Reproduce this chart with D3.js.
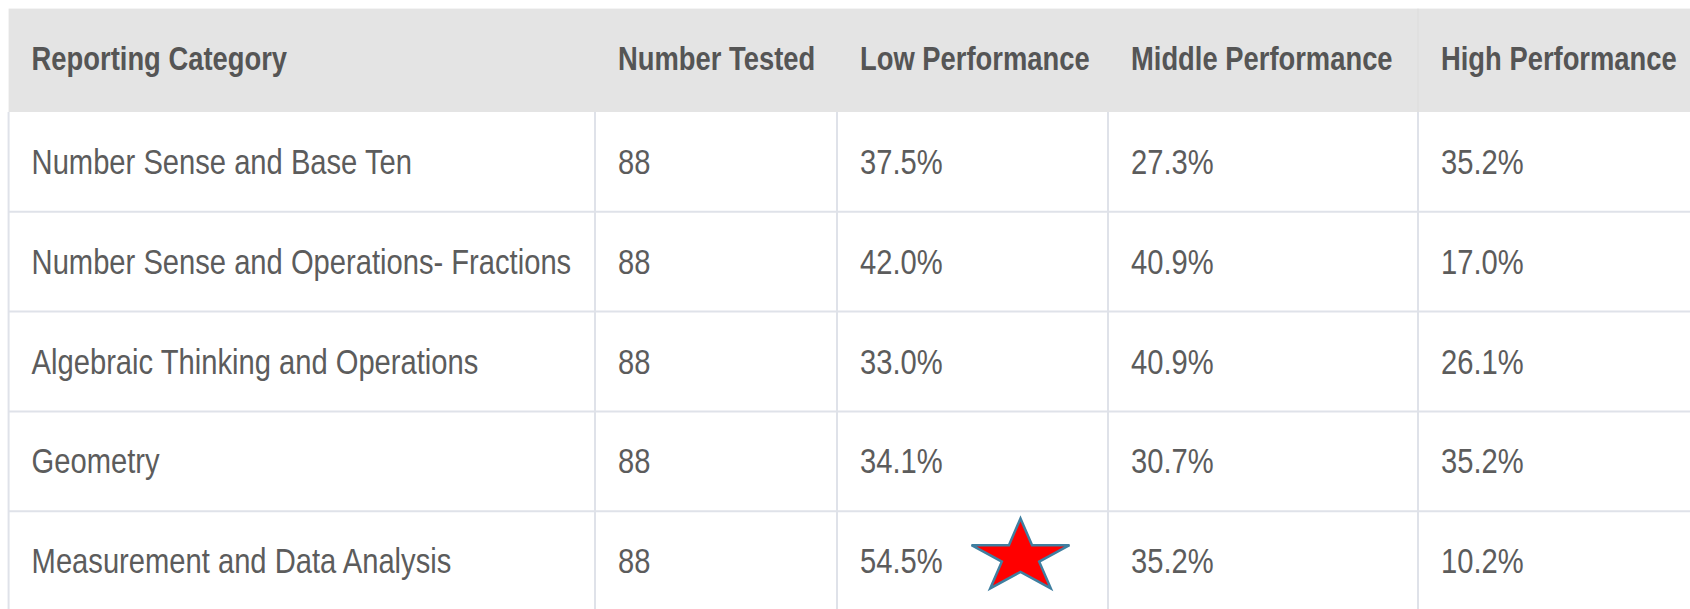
<!DOCTYPE html>
<html>
<head>
<meta charset="utf-8">
<script src="https://cdn.jsdelivr.net/npm/d3@7"></script>
<style>
  html, body { margin: 0; padding: 0; background: #fff; }
  svg { display: block; }
</style>
</head>
<body>
<div id="chart"></div>
<script>
// table contents
const columns = ["Reporting Category", "Number Tested", "Low Performance", "Middle Performance", "High Performance"];
const categories = [
  "Number Sense and Base Ten",
  "Number Sense and Operations- Fractions",
  "Algebraic Thinking and Operations",
  "Geometry",
  "Measurement and Data Analysis"
];
const numberTested = [88, 88, 88, 88, 88];
const lowPerf = [37.5, 42.0, 33.0, 34.1, 54.5];
const midPerf = [27.3, 40.9, 40.9, 30.7, 35.2];
const highPerf = [35.2, 17.0, 26.1, 35.2, 10.2];
const starred = { row: "Measurement and Data Analysis", col: "Low Performance" };

const width = 1690, height = 609;
const tblLeft = 8.6, tblTop = 8.6, headH = 103.4, rowH = 99.8;
const colEdges = [tblLeft, 595, 837, 1108, 1418, width + 2];
const pad = 23;

const svg = d3.select("#chart").append("svg")
  .attr("width", width)
  .attr("height", height);

const fmt = d3.format(".1f");
const rows = categories.map((c, i) => [c, String(numberTested[i]), fmt(lowPerf[i]) + "%", fmt(midPerf[i]) + "%", fmt(highPerf[i]) + "%"]);

const x = d3.scaleOrdinal().domain(columns).range(colEdges.slice(0, -1));
const xEnd = d3.scaleOrdinal().domain(columns).range(colEdges.slice(1));
const y = d3.scaleBand().domain(categories).range([tblTop + headH, tblTop + headH + rowH * categories.length]);

// header band
svg.append("rect")
  .attr("x", tblLeft).attr("y", tblTop)
  .attr("width", width - tblLeft).attr("height", headH)
  .attr("fill", "#e4e4e4");

// grid lines
const grid = svg.append("g").attr("stroke", "#dfe2e9").attr("stroke-width", 2);
categories.forEach(c => {
  grid.append("line")
    .attr("x1", tblLeft).attr("x2", width)
    .attr("y1", y(c) + rowH).attr("y2", y(c) + rowH);
});
grid.append("line")
  .attr("x1", tblLeft).attr("x2", tblLeft)
  .attr("y1", tblTop + headH).attr("y2", height);
columns.slice(1).forEach(c => {
  grid.append("line")
    .attr("x1", x(c)).attr("x2", x(c))
    .attr("y1", tblTop + headH).attr("y2", height);
});
// faint header divider above High Performance
svg.append("line")
  .attr("x1", x("High Performance")).attr("x2", x("High Performance"))
  .attr("y1", tblTop).attr("y2", tblTop + headH)
  .attr("stroke", "#dcdcdc").attr("stroke-width", 1);

const font = "'Liberation Sans', Arial, sans-serif";

// narrow look: squeeze each label horizontally
const head = svg.append("g").selectAll("text")
  .data(columns)
  .join("text")
  .attr("transform", d => `translate(${x(d) + pad},${tblTop + headH / 2 + 10}) scale(0.805,1)`)
  .attr("font-family", font)
  .attr("font-weight", "bold")
  .attr("font-size", 34)
  .attr("fill", "#555555")
  .text(d => d);

const body = svg.append("g");
rows.forEach((r, i) => {
  body.selectAll(null)
    .data(r.map((v, j) => ({ v, col: columns[j] })))
    .join("text")
    .attr("transform", d => `translate(${x(d.col) + pad},${y(categories[i]) + rowH / 2 + 12}) scale(0.81,1)`)
    .attr("font-family", font)
    .attr("font-size", 36)
    .attr("fill", "#5c5c5c")
    .text(d => d.v);
});

// red star in the starred cell
const cx = (x(starred.col) + xEnd(starred.col)) / 2 + 48;
const cy = y(starred.row) + rowH / 2 - 4;
const rx = 51.5, ry = 38.7, inner = 0.382;
const pts = d3.range(10).map(i => {
  const a = -Math.PI / 2 + i * Math.PI / 5;
  const r = i % 2 ? inner : 1;
  return [cx + Math.cos(a) * r * rx, cy + Math.sin(a) * r * ry];
});
svg.append("path")
  .attr("d", d3.line()(pts) + "Z")
  .attr("fill", "#ff0000")
  .attr("stroke", "#3f7fa0")
  .attr("stroke-width", 2.5)
  .attr("stroke-linejoin", "miter");
</script>
</body>
</html>
